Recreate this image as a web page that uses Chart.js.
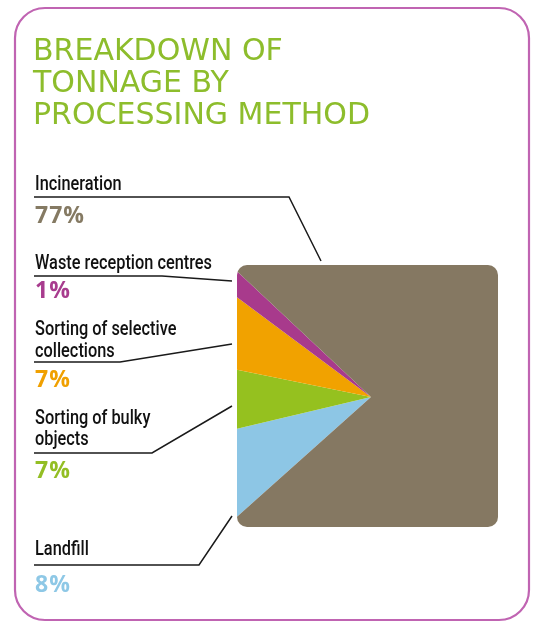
<!DOCTYPE html>
<html>
<head>
<meta charset="utf-8">
<script src="https://cdn.jsdelivr.net/npm/chart.js@4.4.1/dist/chart.umd.min.js"></script>
<style>
    html, body { margin: 0; padding: 0; background: #ffffff; overflow: hidden; width: 541px; height: 625px; }
    #wrap { position: absolute; left: 0; top: 0; width: 600px; height: 625px; }
</style>
</head>
<body>
<div id="wrap"><canvas id="tonnage-chart" width="600" height="625"></canvas></div>
<script>
// Slices in drawing order (clockwise, starting at the bottom-left corner)
const categories = ['Landfill', 'Sorting of bulky objects', 'Sorting of selective collections', 'Waste reception centres', 'Incineration'];
const shares = [7.9, 6.9, 7.0, 1.8, 76.4];
const shareLabels = ['8%', '7%', '7%', '1%', '77%'];
const titleLines = ['BREAKDOWN OF', 'TONNAGE BY', 'PROCESSING METHOD'];

const sliceColors = ['#8dc6e5', '#95c11f', '#f1a200', '#a83a8c', '#857862'];
const textColors = ['#8ec8e6', '#93be24', '#f0a000', '#a83c8e', '#857a63'];

// Callout placement, one per category (text lines, baselines, underline and pointer)
const callouts = [
    { lines: ['Landfill'], y: [555], ulY: 565, ulEnd: 199, tip: [232, 516], pctY: 592 },
    { lines: ['Sorting of bulky', 'objects'], y: [424, 445], ulY: 453, ulEnd: 152, tip: [232, 406], pctY: 478 },
    { lines: ['Sorting of selective', 'collections'], y: [335, 357], ulY: 362, ulEnd: 120, tip: [232, 344], pctY: 387 },
    { lines: ['Waste reception centres'], y: [269], ulY: 276, ulEnd: 162, tip: [232, 281], pctY: 298 },
    { lines: ['Incineration'], y: [190], ulY: 197, ulEnd: 289, tip: [321, 261], pctY: 223 }
];

const squareClip = {
    id: 'squareClip',
    beforeDatasetsDraw(chart) {
        const ctx = chart.ctx;
        ctx.save();
        ctx.beginPath();
        ctx.roundRect(237, 265, 261, 262, 10);
        ctx.clip();
    },
    afterDatasetsDraw(chart) {
        chart.ctx.restore();
    }
};

const decorations = {
    id: 'decorations',
    afterDraw(chart) {
        const ctx = chart.ctx;
        ctx.save();

        // frame
        ctx.strokeStyle = '#c064b2';
        ctx.lineWidth = 2.2;
        ctx.beginPath();
        ctx.roundRect(15, 8, 514, 612, 30);
        ctx.stroke();

        // title
        ctx.fillStyle = '#8dbd2c';
        ctx.font = '30px "DejaVu Sans"';
        ctx.letterSpacing = '0px';
        ctx.textBaseline = 'alphabetic';
        const titleY = [60, 92, 124];
        titleLines.forEach((t, i) => ctx.fillText(t, 33, titleY[i]));

        // callouts: condensed look by squeezing Roboto horizontally
        ctx.font = '500 21px Roboto';
        const squeeze = 177 / ctx.measureText('Waste reception centres').width;
        callouts.forEach((c, i) => {
            ctx.fillStyle = '#111111';
            ctx.font = '500 21px Roboto';
            ctx.letterSpacing = '0px';
            c.lines.forEach((t, j) => {
                ctx.save();
                ctx.translate(35, c.y[j]);
                ctx.scale(squeeze, 1);
                ctx.fillText(t, 0, 0);
                ctx.restore();
            });

            ctx.strokeStyle = '#1a1a1a';
            ctx.lineWidth = 1.5;
            ctx.beginPath();
            ctx.moveTo(34, c.ulY);
            ctx.lineTo(c.ulEnd, c.ulY);
            ctx.lineTo(c.tip[0], c.tip[1]);
            ctx.stroke();

            ctx.fillStyle = textColors[i];
            ctx.font = 'bold 23px "Open Sans"';
            ctx.letterSpacing = '1px';
            ctx.fillText(shareLabels[i], 35, c.pctY);
        });
        ctx.restore();
    }
};

const ctx = document.getElementById('tonnage-chart');
new Chart(ctx, {
    type: 'pie',
    data: {
        labels: categories,
        datasets: [{
            data: shares,
            backgroundColor: sliceColors,
            borderWidth: 0,
            hoverOffset: 0,
            offset: 0,
            clip: false
        }]
    },
    options: {
        responsive: false,
        animation: false,
        rotation: 228.2,
        layout: {
            padding: { left: 171, top: 197, right: 29, bottom: 28 }
        },
        plugins: {
            legend: { display: false },
            tooltip: { enabled: false }
        }
    },
    plugins: [squareClip, decorations]
});
</script>
</body>
</html>
